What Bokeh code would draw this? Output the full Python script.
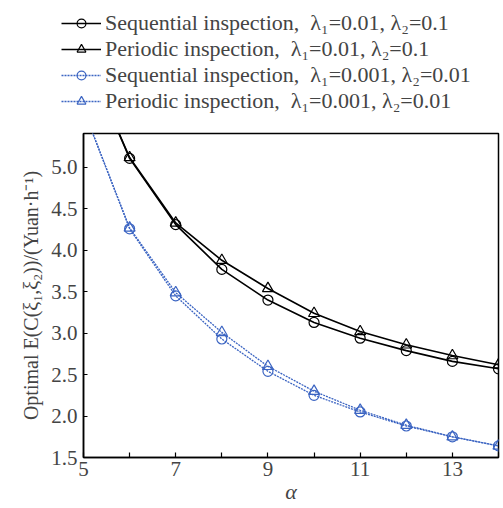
from bokeh.plotting import figure
from bokeh.layouts import column, row
from bokeh.models import Legend, LegendItem, FixedTicker, Range1d, NumeralTickFormatter
from bokeh.embed import file_html
from bokeh.resources import INLINE

alpha = [5, 6, 7, 8, 9, 10, 11, 12, 13, 14]
seq_a = [6.40, 5.11, 4.31, 3.77, 3.40, 3.13, 2.94, 2.79, 2.66, 2.57]
per_a = [6.40, 5.12, 4.33, 3.88, 3.54, 3.24, 3.02, 2.86, 2.73, 2.62]
seq_b = [5.70, 4.26, 3.45, 2.93, 2.54, 2.25, 2.05, 1.88, 1.75, 1.64]
per_b = [5.70, 4.27, 3.49, 3.01, 2.60, 2.30, 2.07, 1.89, 1.75, 1.64]

labels = [
    "Sequential inspection,  λ\u2081=0.01, λ\u2082=0.1",
    "Periodic inspection,  λ\u2081=0.01, λ\u2082=0.1",
    "Sequential inspection,  λ\u2081=0.001, λ\u2082=0.01",
    "Periodic inspection,  λ\u2081=0.001, λ\u2082=0.01",
]
x_ticks = [5, 6, 7, 8, 9, 10, 11, 12, 13, 14]
x_tick_labels = {5: "5", 6: "", 7: "7", 8: "", 9: "9", 10: "", 11: "11", 12: "", 13: "13", 14: ""}
y_ticks = [1.5, 2.0, 2.5, 3.0, 3.5, 4.0, 4.5, 5.0]

BLACK = "#000000"
BLUE = "#3b64c2"
FONT = "Liberation Serif"

styles = [
    dict(color=BLACK, width=1.6, dash="solid", marker="circle", size=10),
    dict(color=BLACK, width=1.6, dash="solid", marker="triangle", size=11),
    dict(color=BLUE, width=1.3, dash="2 1", marker="circle", size=10),
    dict(color=BLUE, width=1.3, dash="2 1", marker="triangle", size=11),
]
series = [seq_a, per_a, seq_b, per_b]

# ---- main plot ----
p = figure(width=500, height=381, output_backend="svg", toolbar_location=None,
           x_range=Range1d(5, 14), y_range=Range1d(1.5, 5.41),
           min_border_left=83, min_border_right=2, min_border_top=8, min_border_bottom=46)
p.grid.visible = False
p.outline_line_color = "black"
p.outline_line_width = 1.5
p.background_fill_color = "white"
p.border_fill_color = "white"

for ys, st in zip(series, styles):
    p.line(alpha, ys, line_color=st["color"], line_width=st["width"], line_dash=st["dash"])
    p.scatter(alpha, ys, marker=st["marker"], size=st["size"], fill_color=None,
              line_color=st["color"], line_width=1.2)

xa = p.xaxis[0]
xa.ticker = FixedTicker(ticks=x_ticks)
xa.major_label_overrides = x_tick_labels
xa.minor_tick_line_color = None
xa.major_tick_in = 5
xa.major_tick_out = 0
xa.axis_line_width = 1.5
xa.major_tick_line_width = 1.2
xa.major_label_text_font = FONT
xa.major_label_text_font_size = "21px"
xa.major_label_standoff = 4
xa.axis_label = "α"
xa.axis_label_text_font = FONT
xa.axis_label_text_font_style = "italic"
xa.axis_label_text_font_size = "22px"
xa.axis_label_standoff = 0

ya = p.yaxis[0]
ya.ticker = FixedTicker(ticks=y_ticks)
ya.formatter = NumeralTickFormatter(format="0.0")
ya.minor_tick_line_color = None
ya.major_tick_in = 4
ya.major_tick_out = 0
ya.axis_line_width = 1.5
ya.major_label_text_font = FONT
ya.major_label_text_font_size = "21px"
ya.major_label_standoff = 6
ya.axis_label = "Optimal E(C(ξ\u2081,ξ\u2082))/(Yuan·h\u207b\u00b9)"
ya.axis_label_text_font = FONT
ya.axis_label_text_font_style = "normal"
ya.axis_label_text_font_size = "20px"
ya.axis_label_standoff = 6

# ---- legend strip ----
lg = figure(width=500, height=125, output_backend="svg", toolbar_location=None,
            x_range=Range1d(0, 1), y_range=Range1d(0, 1),
            x_axis_location=None, y_axis_location=None,
            min_border_left=0, min_border_right=0, min_border_top=0, min_border_bottom=0)
lg.grid.visible = False
lg.outline_line_color = None
lg.background_fill_color = "white"
lg.border_fill_color = "white"

items = []
for lab, ys, st in zip(labels, series, styles):
    # same series, lying outside this strip's range: only the legend samples show
    rl = lg.line(alpha, ys, line_color=st["color"], line_width=st["width"], line_dash=st["dash"])
    rm = lg.scatter(alpha, ys, marker=st["marker"], size=st["size"], fill_color=None,
                    line_color=st["color"], line_width=1.2)
    items.append(LegendItem(label=lab, renderers=[rl, rm]))

legend = Legend(items=items, location=(61, 11))
legend.label_text_font = FONT
legend.label_text_font_size = "22px"
legend.glyph_width = 40
legend.glyph_height = 22
legend.label_height = 22
legend.spacing = 0
legend.label_standoff = 4
legend.padding = 0
legend.margin = 0
legend.border_line_color = None
legend.background_fill_color = None
lg.add_layout(legend, "center")

layout = column(row(lg), p, spacing=0)
open("out.html", "w").write(file_html(layout, INLINE))
